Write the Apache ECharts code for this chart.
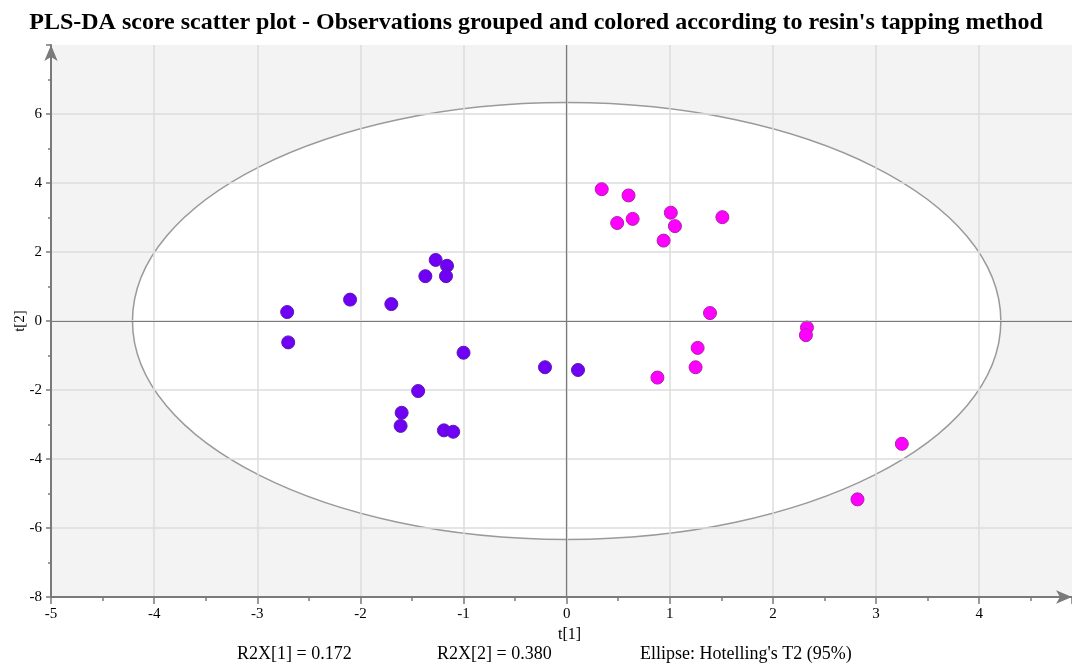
<!DOCTYPE html>
<html>
<head>
<meta charset="utf-8">
<script src="https://cdn.jsdelivr.net/npm/echarts@6/dist/echarts.min.js"></script>
<style>html,body{margin:0;padding:0;background:#fff}#c{width:1072px;height:665px}</style>
</head>
<body>
<div id="c"></div>
<script>
const titleText = "PLS-DA score scatter plot - Observations grouped and colored according to resin's tapping method";
const xName = "t[1]";
const yName = "t[2]";
const footerTexts = ["R2X[1] = 0.172", "R2X[2] = 0.380", "Ellipse: Hotelling's T2 (95%)"];
const xTicks = { min: -5, max: 4.9, interval: 1 };
const yTicks = { min: -8, max: 8, interval: 2 };
const ellipseCenter = [0, 0];
const ellipseRadii = [4.21, 6.33];

const group1Name = "Tapping method A";
const group1X = [-2.71, -2.70, -2.10, -1.70, -1.37, -1.27, -1.16, -1.17, -1.00, -1.44, -1.60, -1.61, -1.19, -1.10, -0.21, 0.11];
const group1Y = [0.26, -0.62, 0.62, 0.49, 1.30, 1.77, 1.60, 1.30, -0.92, -2.03, -2.66, -3.04, -3.17, -3.21, -1.34, -1.42];

const group2Name = "Tapping method B";
const group2X = [0.34, 0.60, 0.49, 0.64, 1.01, 1.05, 0.94, 1.51, 1.39, 1.27, 1.25, 0.88, 2.33, 2.32, 3.25, 2.82];
const group2Y = [3.82, 3.64, 2.84, 2.96, 3.14, 2.75, 2.33, 3.01, 0.23, -0.78, -1.34, -1.64, -0.19, -0.41, -3.56, -5.17];

const serif = "'Liberation Serif', 'Times New Roman', serif";
const zip = (xs, ys) => xs.map((x, i) => [x, ys[i]]);

const chart = echarts.init(document.getElementById('c'));
const axisCommon = {
  z: 2,
  axisLine: { show: true, onZero: false, lineStyle: { color: '#7a7a7a', width: 2 }, symbol: ['none', 'arrow'], symbolSize: [10, 16] },
  axisLabel: { color: '#000', fontFamily: serif, fontSize: 15 },
  splitLine: { show: true, showMaxLine: false, showMinLine: false, lineStyle: { color: '#dcdcdc', width: 1.5 } },
  minorTick: { show: true, splitNumber: 2, length: 4, lineStyle: { color: '#7a7a7a', width: 1.5 } },
  axisTick: { show: true, length: 7, lineStyle: { color: '#7a7a7a', width: 1.5 } }
};

chart.setOption({
  animation: false,
  title: {
    text: titleText, left: 'center', top: 6,
    textStyle: { fontFamily: serif, fontWeight: 'bold', fontSize: 24, color: '#000' }
  },
  grid: { left: 51, right: 0, top: 45, bottom: 68, show: true, backgroundColor: '#f3f3f3', borderWidth: 0, outerBoundsMode: 'none', containLabel: false },
  xAxis: Object.assign({}, axisCommon, {
    type: 'value', min: xTicks.min, max: xTicks.max, interval: xTicks.interval,
    name: xName, nameLocation: 'middle', nameGap: 30,
    nameTextStyle: { fontFamily: serif, fontSize: 16, color: '#000', padding: [0, 0, 0, 16] },
    axisLabel: Object.assign({}, axisCommon.axisLabel, { margin: 10, formatter: v => Number.isInteger(v) ? String(v) : '' })
  }),
  yAxis: Object.assign({}, axisCommon, {
    type: 'value', min: yTicks.min, max: yTicks.max, interval: yTicks.interval,
    axisTick: Object.assign({}, axisCommon.axisTick, { length: 5 }),
    minorTick: Object.assign({}, axisCommon.minorTick, { length: 3 }),
    axisLabel: Object.assign({}, axisCommon.axisLabel, { margin: 9, formatter: v => v === yTicks.max ? '' : String(v) })
  }),
  graphic: [
    { type: 'text', x: 20, y: 321, rotation: Math.PI / 2, style: { text: yName, font: '15px ' + serif, fill: '#000', align: 'center', verticalAlign: 'middle' } },
    { type: 'text', left: 237, top: 645, style: { text: footerTexts[0], font: '18px ' + serif, fill: '#000' } },
    { type: 'text', left: 437, top: 645, style: { text: footerTexts[1], font: '18px ' + serif, fill: '#000' } },
    { type: 'text', left: 640, top: 645, style: { text: footerTexts[2], font: '18px ' + serif, fill: '#000' } }
  ],
  series: [
    {
      type: 'custom', z: 1, silent: true,
      data: [ellipseCenter],
      renderItem: function (params, api) {
        const c = api.coord([api.value(0), api.value(1)]);
        const s = api.size(ellipseRadii);
        return {
          type: 'ellipse',
          shape: { cx: c[0], cy: c[1], rx: s[0], ry: s[1] },
          style: { fill: '#ffffff', stroke: '#9a9a9a', lineWidth: 1.5 }
        };
      }
    },
    {
      name: group1Name, type: 'scatter', z: 4, symbolSize: 13,
      data: zip(group1X, group1Y),
      itemStyle: { color: '#7000f5', borderColor: '#5a1ab0', borderWidth: 1, opacity: 1 },
      markLine: {
        silent: true, symbol: 'none', label: { show: false },
        lineStyle: { color: '#7a7a7a', width: 1.2, type: 'solid' },
        data: [{ xAxis: 0 }, { yAxis: 0 }]
      }
    },
    {
      name: group2Name, type: 'scatter', z: 4, symbolSize: 13,
      data: zip(group2X, group2Y),
      itemStyle: { color: '#ff00ff', borderColor: '#b020b0', borderWidth: 1, opacity: 1 }
    }
  ]
});
</script>
</body>
</html>
